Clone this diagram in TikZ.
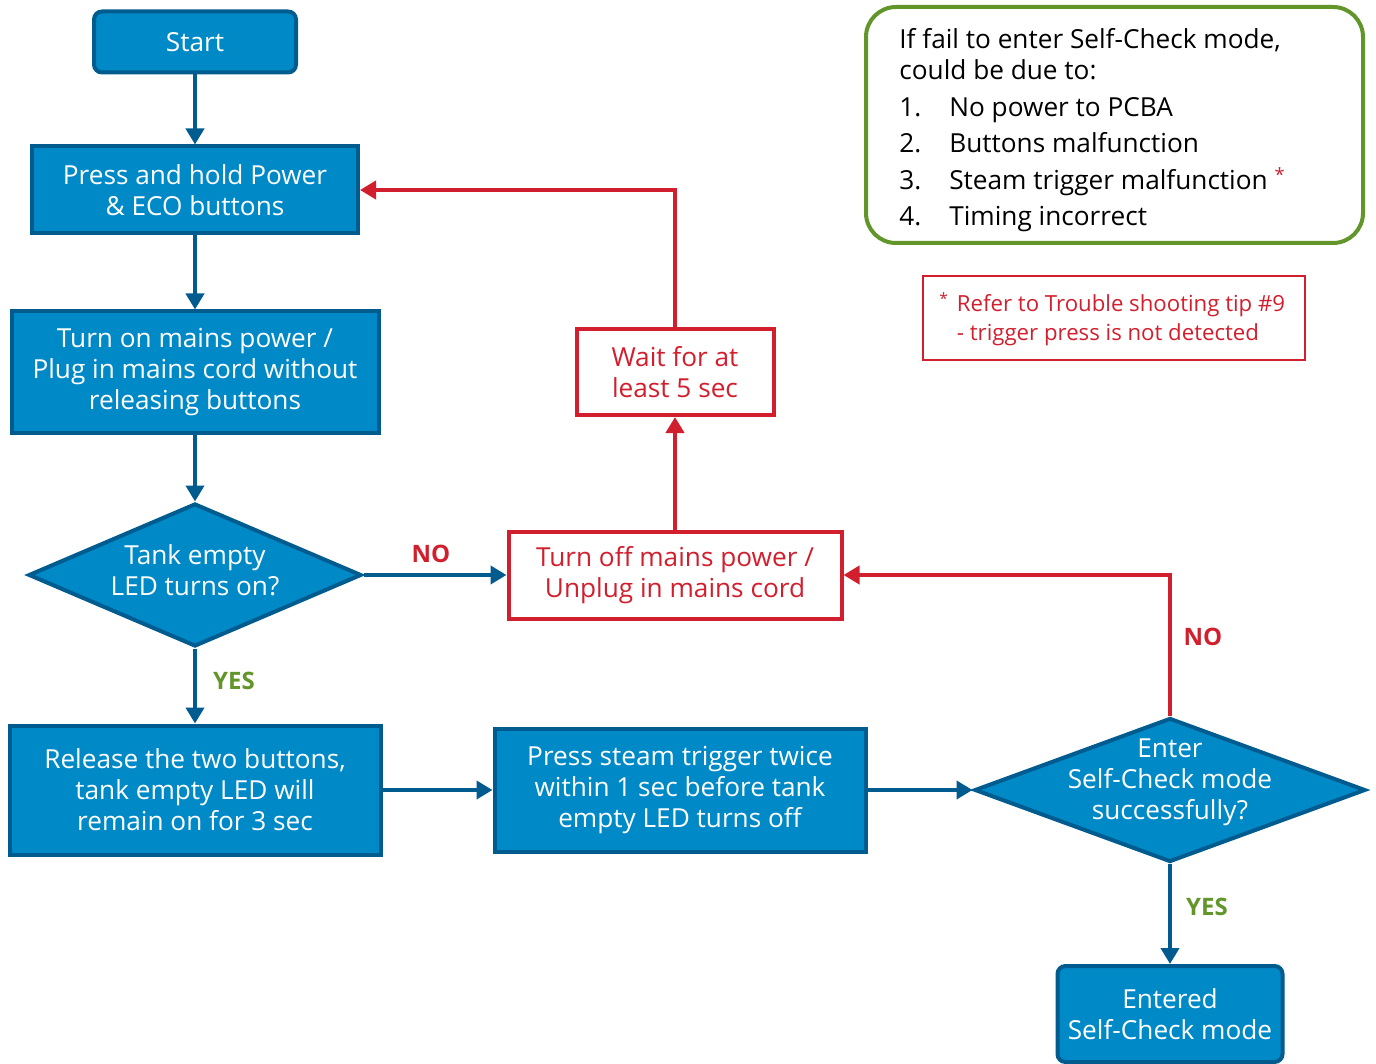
\documentclass[tikz,border=0pt]{standalone}
\usepackage{fontspec}
\setmainfont{Open Sans}
\usetikzlibrary{shapes.geometric,arrows.meta}
\definecolor{phblue}{HTML}{0089C7}
\definecolor{phdark}{HTML}{005C8F}
\definecolor{phred}{HTML}{D11F2E}
\definecolor{phgreen}{HTML}{62962B}
\newcommand{\boxfont}{\fontsize{13.1}{15.5}\selectfont}
\tikzset{
  box/.style = {rectangle, draw=phdark, fill=phblue, line width=2pt,
    text=white, align=center, inner sep=0pt, font=\boxfont},
  endbox/.style = {box, rounded corners=4pt},% start / end
  redbox/.style = {rectangle, draw=phred, fill=white, line width=2pt,
    text=phred, align=center, inner sep=0pt, font=\boxfont},
  dec/.style = {diamond, draw=phdark, fill=phblue, line width=2pt,
    inner sep=0pt},% decision
  dectxt/.style = {text=white, align=center, inner sep=0pt, font=\boxfont},
  flow/.style = {color=phdark, line width=2pt,
    -{Triangle[length=8pt,width=9pt]}},
  back/.style = {flow, color=phred},
  lblyes/.style = {text=phgreen, font=\bfseries\fontsize{12}{14}\selectfont},
  lblno/.style = {lblyes, text=phred}
}

\begin{document}
\begin{tikzpicture}[x=0.5pt,y=-0.5pt]
\useasboundingbox (0,0) rectangle (1376,1064);

% main column
\node [endbox, minimum width=101pt, minimum height=30.5pt] (start) at (195,42) {Start};
\node [box, minimum width=163pt, minimum height=43.5pt] (hold) at (195,190)
  {Press and hold Power\\ \& ECO buttons};
\node [box, minimum width=183.5pt, minimum height=60.5pt] (plug) at (195,372)
  {Turn on mains power /\\ Plug in mains cord without\\ releasing buttons};
\node [dec, minimum width=166.5pt, minimum height=71.5pt] (led) at (195,575) {};
\node [dectxt] (ledtxt) at (195,570) {Tank empty\\ LED turns on?};
\node [box, minimum width=185.5pt, minimum height=64.5pt] (release) at (195,790)
  {Release the two buttons,\\ tank empty LED will\\ remain on for 3 sec};
\node [box, minimum width=185.5pt, minimum height=61.5pt] (trigger) at (680,790)
  {Press steam trigger twice\\ within 1 sec before tank\\ empty LED turns off};
\node [dec, minimum width=195.5pt, minimum height=72pt] (check) at (1170,790) {};
\node [dectxt] (checktxt) at (1170,782) {Enter\\ Self-Check mode\\ successfully?};
\node [endbox, minimum width=112.5pt, minimum height=48pt] (done) at (1170,1014)
  {Entered\\ Self-Check mode};

% retry path
\node [redbox, minimum width=166.5pt, minimum height=43.5pt] (unplug) at (675,575)
  {Turn off mains power /\\ Unplug in mains cord};
\node [redbox, minimum width=98.5pt, minimum height=43pt] (wait) at (675,372)
  {Wait for at\\ least 5 sec};

% notes
\node [draw=phgreen, line width=2pt, rounded corners=15pt, minimum width=248.5pt,
  minimum height=118pt, inner sep=0pt] (fail) at (1114.5,125) {};
\node [anchor=base west, inner sep=0pt, font=\boxfont] (failtxt) at (899,49)
  {\begin{tabular}[t]{@{}l@{\hspace{14pt}}l@{}}
   \multicolumn{2}{@{}l@{}}{If fail to enter Self-Check mode,}\\
   \multicolumn{2}{@{}l@{}}{could be due to:}\\[3pt]
   1. & No power to PCBA\\[2.5pt]
   2. & Buttons malfunction\\[2.5pt]
   3. & Steam trigger malfunction \textcolor{phred}{\textsuperscript{*}}\\[2.5pt]
   4. & Timing incorrect
   \end{tabular}};
\node [draw=phred, line width=1pt, minimum width=191pt, minimum height=42pt,
  inner sep=0pt] (tip) at (1114,318) {};
\node [anchor=base west, inner sep=0pt, text=phred,
  font=\fontsize{11.1}{14}\selectfont] (tiptxt) at (939,312)
  {\begin{tabular}[t]{@{}l@{\hspace{4pt}}l@{}}
   \textsuperscript{*} & Refer to Trouble shooting tip \#9\\
   & - trigger press is not detected
   \end{tabular}};

% connectors
\draw [flow] (start) -- (hold);
\draw [flow] (hold) -- (plug);
\draw [flow] (plug) -- (led.north);
\draw [flow] (led.south) -- (release);
\draw [flow] (led.east) -- (unplug);
\draw [flow] (release) -- (trigger);
\draw [flow] (trigger) -- (check.west);
\draw [flow] (check.south) -- (done);
\draw [back] (check.north) |- (unplug.east);
\draw [back] (unplug) -- (wait);
\draw [back] (wait.north) |- (hold.east);

% branch labels
\node [lblno] (no1) at (431,554) {NO};
\node [lblyes] (yes1) at (234,681) {YES};
\node [lblno] (no2) at (1203,637) {NO};
\node [lblyes] (yes2) at (1207,907) {YES};
\end{tikzpicture}
\end{document}
